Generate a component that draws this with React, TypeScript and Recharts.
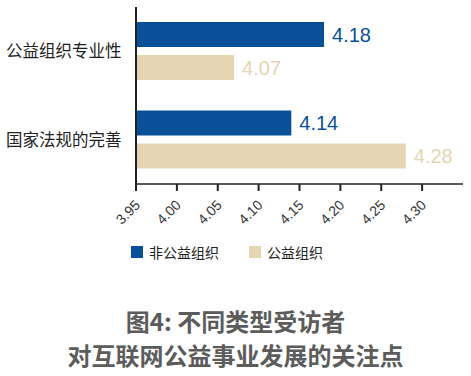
import { BarChart, Bar, XAxis, YAxis, LabelList } from "recharts";

const CATEGORIES = ["公益组织专业性", "国家法规的完善"];
const NON_PUBLIC = [4.18, 4.14];
const PUBLIC = [4.07, 4.28];
const TICKS = [3.95, 4.0, 4.05, 4.1, 4.15, 4.2, 4.25, 4.3];
const SERIES_NAMES = ["非公益组织", "公益组织"];

const BLUE = "#0a5099";
const BEIGE = "#e5d5b3";
const FONT = "'Noto Sans CJK SC', 'Noto Sans', sans-serif";

const data = CATEGORIES.map((c, i) => ({
  name: c,
  nonPublic: NON_PUBLIC[i],
  pub: PUBLIC[i],
}));

function XTick(props: any) {
  const { x, y, payload } = props;
  return (
    <text
      x={x + 5}
      y={y + 13}
      transform={`rotate(-45, ${x + 5}, ${y + 13})`}
      textAnchor="end"
      fontSize={14}
      fontFamily="'Liberation Sans', sans-serif"
      fill="#333"
    >
      {payload.value.toFixed(2)}
    </text>
  );
}

function YTick(props: any) {
  const { y, payload } = props;
  return (
    <text x={6} y={y} dy={6} textAnchor="start" fontSize={16.5} fontFamily={FONT} fill="#222">
      {payload.value}
    </text>
  );
}

export default function App() {
  return (
    <div style={{ position: "absolute", left: 0, top: 0, width: 471, height: 376, background: "#fff" }}>
      <BarChart
        width={471}
        height={240}
        data={data}
        layout="vertical"
        margin={{ top: 7, right: 8, left: 0, bottom: 0 }}
        barGap={8}
        barCategoryGap={15}
      >
        <XAxis
          type="number"
          domain={[3.95, 4.35]}
          ticks={TICKS}
          allowDataOverflow
          height={56}
          tick={<XTick />}
          tickSize={7}
          axisLine={{ stroke: "#222", strokeWidth: 1.5 }}
          tickLine={{ stroke: "#222", strokeWidth: 2 }}
        />
        <YAxis
          type="category"
          dataKey="name"
          width={136}
          tick={<YTick />}
          tickLine={false}
          axisLine={{ stroke: "#222", strokeWidth: 2 }}
        />
        <Bar dataKey="nonPublic" fill={BLUE} barSize={25} isAnimationActive={false}>
          <LabelList
            dataKey="nonPublic"
            position="right"
            offset={8}
            fill={BLUE}
            fontSize={20}
            fontFamily="'Liberation Sans', sans-serif"
            formatter={(v: any) => Number(v).toFixed(2)}
          />
        </Bar>
        <Bar dataKey="pub" fill={BEIGE} barSize={25} isAnimationActive={false}>
          <LabelList
            dataKey="pub"
            position="right"
            offset={8}
            fill={BEIGE}
            fontSize={20}
            fontFamily="'Liberation Sans', sans-serif"
            formatter={(v: any) => Number(v).toFixed(2)}
          />
        </Bar>
      </BarChart>
      <div
        style={{
          position: "absolute",
          top: 242,
          left: 131,
          display: "flex",
          alignItems: "center",
          fontFamily: FONT,
          fontSize: 14,
          color: "#222",
        }}
      >
        <span style={{ width: 12, height: 12, background: BLUE, display: "inline-block", marginRight: 6 }} />
        <span style={{ marginRight: 30 }}>{SERIES_NAMES[0]}</span>
        <span style={{ width: 12, height: 12, background: BEIGE, display: "inline-block", marginRight: 6 }} />
        <span>{SERIES_NAMES[1]}</span>
      </div>
      <div
        style={{
          position: "absolute",
          top: 304,
          left: 0,
          width: 471,
          textAlign: "center",
          fontFamily: FONT,
          fontWeight: 700,
          fontSize: 24,
          lineHeight: "34px",
          color: "#5c5c5c",
        }}
      >
        <div>图4: 不同类型受访者</div>
        <div>对互联网公益事业发展的关注点</div>
      </div>
    </div>
  );
}
